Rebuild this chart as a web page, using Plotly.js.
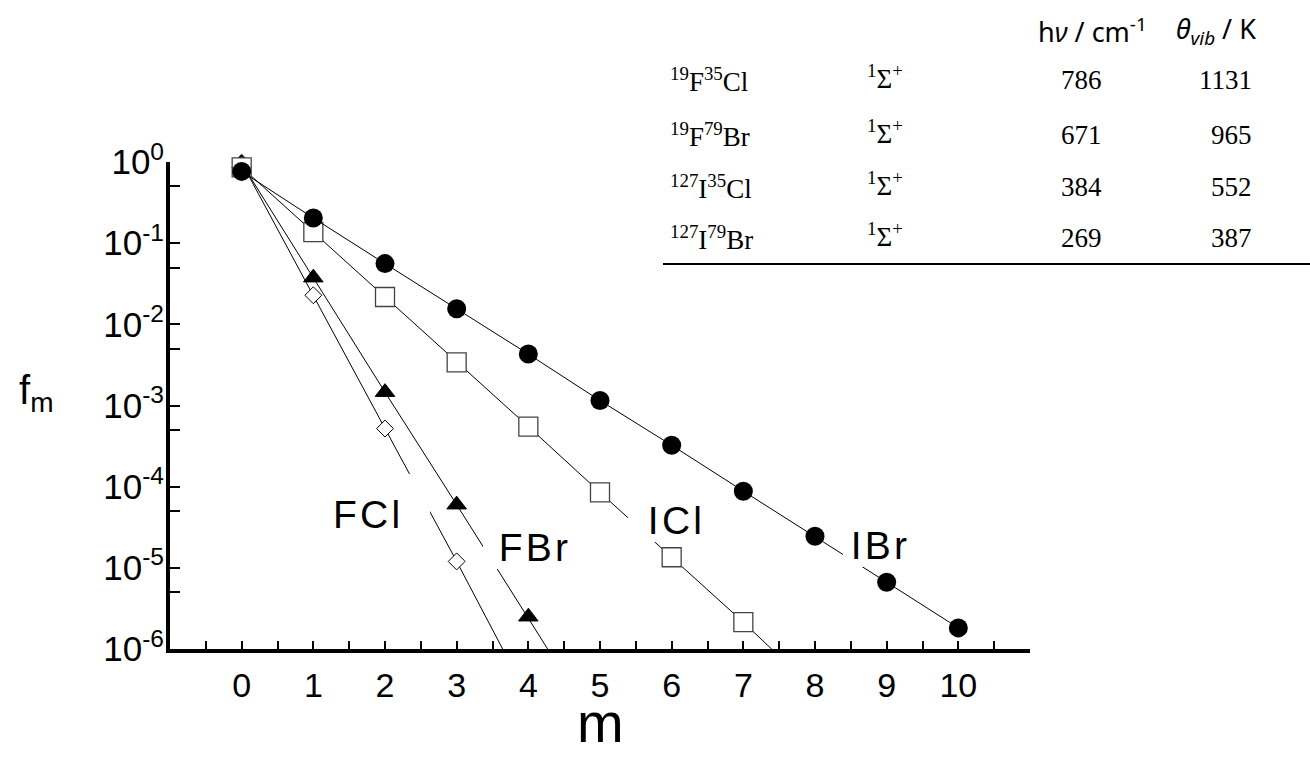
<!DOCTYPE html>
<html>
<head>
<meta charset="utf-8">
<script src="https://cdn.plot.ly/plotly-3.0.1.min.js"></script>
<style>html,body{margin:0;padding:0;background:#fff;}#chart{width:1310px;height:760px;}</style>
</head>
<body>
<div id="chart"></div>
<script>
// ---- data ----
const mFCl = [0, 1, 2, 3, 4];
const fFCl = [0.98, 0.0228, 5.2e-4, 1.2e-5, 2.5e-7];
const mFBr = [0, 1, 2, 3, 4, 5];
const fFBr = [0.96, 0.0376, 1.46e-3, 6.0e-5, 2.5e-6, 9.5e-8];
const mICl = [0, 1, 2, 3, 4, 5, 6, 7, 8];
const fICl = [0.86, 0.137, 0.0217, 3.40e-3, 5.50e-4, 8.5e-5, 1.35e-5, 2.14e-6, 3.1e-7];
const mIBr = [0, 1, 2, 3, 4, 5, 6, 7, 8, 9, 10];
const fIBr = [0.766, 0.204, 0.0560, 0.0156, 4.30e-3, 1.15e-3, 3.24e-4, 8.8e-5, 2.45e-5, 6.65e-6, 1.82e-6];

const curveLabels = ['FCl', 'FBr', 'ICl', 'IBr'];

const xTickVals = [-0.5, 0, 0.5, 1, 1.5, 2, 2.5, 3, 3.5, 4, 4.5, 5, 5.5, 6, 6.5, 7, 7.5, 8, 8.5, 9, 9.5, 10, 10.5];
const xTickText = ['', '0', '', '1', '', '2', '', '3', '', '4', '', '5', '', '6', '', '7', '', '8', '', '9', '', '10', ''];
const yTickVals = [1, 0.5, 0.1, 0.05, 0.01, 0.005, 0.001, 5e-4, 1e-4, 5e-5, 1e-5, 5e-6, 1e-6];
const yTickText = ['10<sup>0</sup>', '', '10<sup>-1</sup>', '', '10<sup>-2</sup>', '', '10<sup>-3</sup>', '',
                   '10<sup>-4</sup>', '', '10<sup>-5</sup>', '', '10<sup>-6</sup>'];

const molecules = ['<sup>19</sup>F<sup>35</sup>Cl', '<sup>19</sup>F<sup>79</sup>Br',
                   '<sup>127</sup>I<sup>35</sup>Cl', '<sup>127</sup>I<sup>79</sup>Br'];
const terms = ['<sup>1</sup>Σ<sup>+</sup>', '<sup>1</sup>Σ<sup>+</sup>', '<sup>1</sup>Σ<sup>+</sup>', '<sup>1</sup>Σ<sup>+</sup>'];
const hnu = [786, 671, 384, 269];
const thetaVib = [1131, 965, 552, 387];
const headers = ['h<i>ν</i> / cm<sup>-1</sup>', '<i>θ</i><sub><i>vib</i></sub> / K'];

// ---- layout geometry ----
const W = 1310, H = 760;
const M = {l: 170, r: 280, t: 162, b: 111};
const PW = W - M.l - M.r, PH = H - M.t - M.b;
const X = px => (px - M.l) / PW;
const Y = py => (H - M.b - py) / PH;

const visible = v => v.map(f => (f >= 1e-6 ? 1 : 0));

function series(x, y, symbol, size, fill, lineCol, lineW) {
  return {
    x: x, y: y, type: 'scatter', mode: 'lines+markers', cliponaxis: false,
    line: {color: 'black', width: 1},
    marker: {symbol: symbol, size: size, color: fill, opacity: visible(y),
             line: {color: lineCol, width: lineW}},
    showlegend: false, hoverinfo: 'x+y'
  };
}

const traces = [
  series(mFCl, fFCl, 'diamond', 13, 'white', 'black', 1),
  series(mFBr, fFBr, 'triangle-up', 17, 'black', 'black', 1),
  series(mICl, fICl, 'square', 19, 'white', '#444', 1.3),
  series(mIBr, fIBr, 'circle', 19, 'black', 'black', 0)
];

const annotations = [];
const sans = 'Liberation Sans, Arial, sans-serif';
const serif = 'Liberation Serif, Times New Roman, serif';
const headFont = {family: 'Noto Sans, sans-serif', size: 27, color: 'black'};

// curve labels with white boxes
const labelBoxes = [
  {l: 333, t: 474, w: 97, h: 62, align: 'left'},
  {l: 483, t: 522, w: 85, h: 47, align: 'right'},
  {l: 628, t: 496, w: 74, h: 46, align: 'right'},
  {l: 843, t: 520, w: 64, h: 47, align: 'right'}
];
curveLabels.forEach((lab, i) => {
  const b = labelBoxes[i];
  annotations.push({
    text: lab.split('').join('\u200a'), xref: 'paper', yref: 'paper',
    x: X(b.l), y: Y(b.t), xanchor: 'left', yanchor: 'top',
    width: b.w, height: b.h, align: b.align, valign: 'bottom',
    showarrow: false, bgcolor: 'white', borderpad: 0, borderwidth: 0,
    font: {family: sans, size: 39, color: 'black'}
  });
});

// axis titles
annotations.push({text: 'f<sub>m</sub>', xref: 'paper', yref: 'paper', x: X(17), y: Y(393),
  xanchor: 'left', yanchor: 'middle', showarrow: false, font: {family: sans, size: 40, color: 'black'}});
annotations.push({text: 'm', xref: 'paper', yref: 'paper', x: X(600), y: Y(722),
  xanchor: 'center', yanchor: 'middle', showarrow: false, font: {family: sans, size: 56, color: 'black'}});

// table
annotations.push({text: headers[0], xref: 'paper', yref: 'paper', x: X(1036), y: Y(30),
  xanchor: 'left', yanchor: 'middle', showarrow: false, font: headFont});
annotations.push({text: headers[1], xref: 'paper', yref: 'paper', x: X(1174), y: Y(30),
  xanchor: 'left', yanchor: 'middle', showarrow: false, font: headFont});
const rowY = [80, 135, 187, 238];
molecules.forEach((mol, i) => {
  const f = {family: serif, size: 27, color: 'black'};
  annotations.push({text: mol, xref: 'paper', yref: 'paper', x: X(668), y: Y(rowY[i]),
    xanchor: 'left', yanchor: 'middle', showarrow: false, font: f});
  annotations.push({text: terms[i], xref: 'paper', yref: 'paper', x: X(865), y: Y(rowY[i] - 3),
    xanchor: 'left', yanchor: 'middle', showarrow: false, font: f});
  annotations.push({text: String(hnu[i]), xref: 'paper', yref: 'paper', x: X(1081), y: Y(rowY[i]),
    xanchor: 'center', yanchor: 'middle', showarrow: false, font: f});
  annotations.push({text: String(thetaVib[i]), xref: 'paper', yref: 'paper', x: X(1254), y: Y(rowY[i]),
    xanchor: 'right', yanchor: 'middle', showarrow: false, font: f});
});

const layout = {
  width: W, height: H, margin: M,
  paper_bgcolor: 'white', plot_bgcolor: 'white',
  font: {family: sans, color: 'black'},
  xaxis: {
    range: [-1, 11], showgrid: false, zeroline: false,
    showline: true, linecolor: 'black', linewidth: 4,
    tickmode: 'array', tickvals: xTickVals, ticktext: xTickText,
    ticks: 'inside', ticklen: 8, tickwidth: 2, tickcolor: 'black',
    ticklabelstandoff: 3,
    tickfont: {family: sans, size: 34, color: 'black'}
  },
  yaxis: {
    type: 'log', range: [-6, 0], showgrid: false, zeroline: false,
    showline: true, linecolor: 'black', linewidth: 4,
    tickmode: 'array', tickvals: yTickVals, ticktext: yTickText,
    ticks: 'inside', ticklen: 10, tickwidth: 2, tickcolor: 'black',
    ticklabelstandoff: -5,
    tickfont: {family: sans, size: 35, color: 'black'}
  },
  annotations: annotations,
  shapes: [{type: 'line', xref: 'paper', yref: 'paper', x0: X(663), x1: X(1310), y0: Y(264), y1: Y(264),
            line: {color: 'black', width: 2}}]
};

Plotly.newPlot('chart', traces, layout, {displayModeBar: false, staticPlot: true});
</script>
</body>
</html>
